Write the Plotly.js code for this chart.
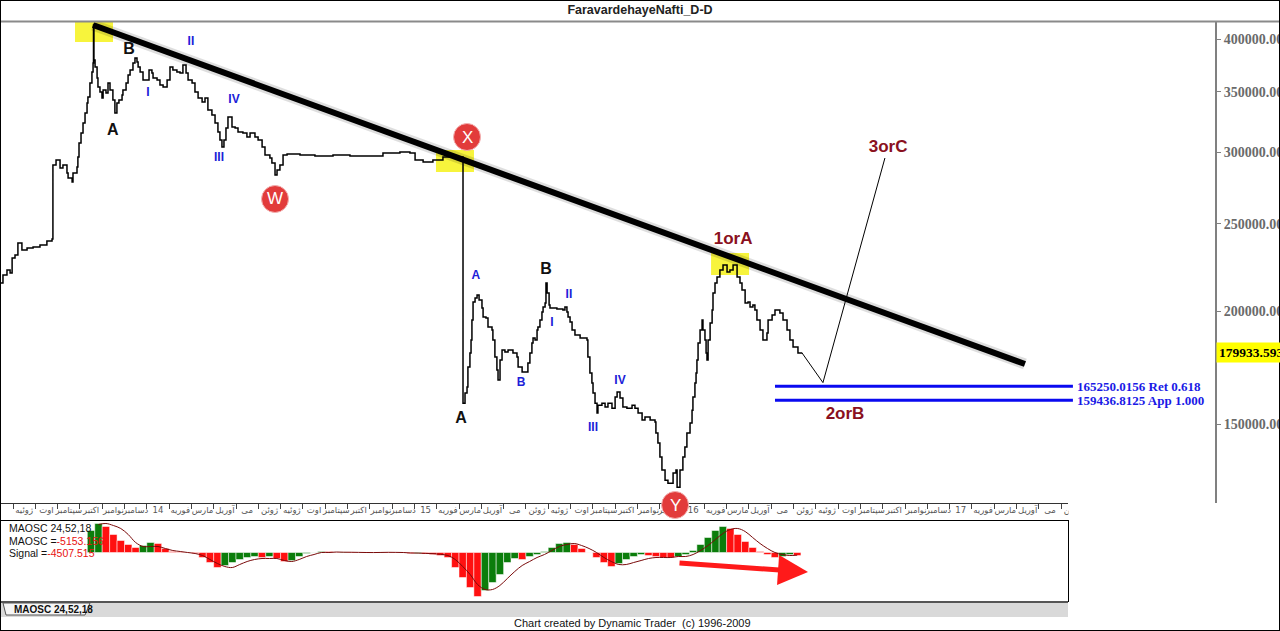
<!DOCTYPE html>
<html>
<head>
<meta charset="utf-8">
<script src="https://cdn.plot.ly/plotly-3.0.1.min.js"></script>
<style>
html,body{margin:0;padding:0;background:#fff;}
#chart{width:1280px;height:631px;}
</style>
</head>
<body>
<div id="chart"></div>
<script>
// ================= DATA =================
const chartTitle = 'FaravardehayeNafti_D-D';

// month tick labels, Jul 2013 .. Jun 2017 (x = month index, 0 = Jul 2013)
const monthLabels = [
  'ژوئیه','اوت','سپتامبر','اکتبر','نوامبر','دسامبر','14','فوریه','مارس','آوریل','می','ژوئن',
  'ژوئیه','اوت','سپتامبر','اکتبر','نوامبر','دسامبر','15','فوریه','مارس','آوریل','می','ژوئن',
  'ژوئیه','اوت','سپتامبر','اکتبر','نوامبر','دسامبر','16','فوریه','مارس','آوریل','می','ژوئن',
  'ژوئیه','اوت','سپتامبر','اکتبر','نوامبر','دسامبر','17','فوریه','مارس','آوریل','می','ژوئن'
];

// price path (month index, price)
const priceMonth = [
  -0.58,-0.45,-0.27,-0.13,-0.04,0.09,0.22,0.40,0.63,0.90,
  1.21,1.52,1.75,1.79,1.93,2.11,2.24,2.42,2.47,2.65,
  2.69,2.87,2.91,2.96,3.05,3.14,3.23,3.32,3.36,3.45,
  3.54,3.59,3.61,3.63,3.68,3.77,3.81,3.90,3.99,4.04,
  4.17,4.26,4.35,4.48,4.57,4.66,4.75,4.89,4.93,5.07,
  5.16,5.25,5.38,5.47,5.56,5.61,5.70,5.83,6.01,6.10,
  6.23,6.28,6.46,6.59,6.73,6.91,7.04,7.17,7.35,7.49,
  7.62,7.76,7.85,8.03,8.16,8.30,8.48,8.61,8.74,8.92,
  9.06,9.19,9.28,9.37,9.46,9.55,9.64,9.82,9.96,10.09,
  10.31,10.49,10.63,10.85,10.99,11.17,11.30,11.52,11.61,11.75,
  11.84,11.97,12.11,12.29,12.87,13.54,14.35,15.11,15.87,16.59,
  17.35,17.80,18.03,18.39,18.83,19.28,19.73,20.13,20.18,20.27,
  20.36,20.40,20.49,20.54,20.58,20.63,20.72,20.81,20.90,21.03,
  21.08,21.21,21.30,21.48,21.52,21.61,21.70,21.75,21.84,21.93,
  22.06,22.20,22.42,22.60,22.65,22.83,23.05,23.09,23.18,23.27,
  23.32,23.41,23.50,23.54,23.63,23.72,23.77,23.86,23.90,23.95,
  24.04,24.08,24.39,24.66,24.75,24.84,24.89,24.98,25.07,25.20,
  25.43,25.65,25.74,25.78,25.87,25.96,26.01,26.10,26.19,26.23,
  26.41,26.55,26.68,26.86,27.00,27.09,27.22,27.35,27.53,27.76,
  27.89,28.03,28.21,28.34,28.57,28.79,28.83,28.92,29.01,29.10,
  29.24,29.37,29.55,29.60,29.73,29.78,29.91,30.04,30.13,30.22,
  30.36,30.45,30.49,30.58,30.63,30.67,30.72,30.81,30.90,30.94,
  31.03,31.08,31.12,31.17,31.26,31.35,31.39,31.48,31.57,31.70,
  31.84,32.02,32.15,32.29,32.47,32.60,32.69,32.83,32.96,33.05,
  33.18,33.27,33.36,33.50,33.63,33.81,33.86,34.04,34.17,34.39,
  34.53,34.71,34.84,34.98,35.20,35.38
];
const priceValue = [
  215000,219400,222200,220500,229100,230900,238000,233800,235000,235600,
  236800,239300,240500,290400,294100,288200,290400,284500,280900,278100,
  284500,288900,296400,307100,315100,323200,331500,340100,345300,357900,
  368000,376600,414800,379500,372700,362400,354200,349700,344400,351500,
  348900,357900,351500,342700,331500,340100,342700,347100,351500,357900,
  365200,369900,376600,381400,377500,372700,368000,360600,360600,369900,
  367100,362400,360600,356000,354200,360600,372700,369900,368000,367100,
  374600,367100,360600,357900,349700,344400,340900,344400,334100,329800,
  323200,315900,309500,304000,309500,319100,328200,319900,319100,315900,
  315100,311900,315100,311900,309500,304000,297900,295600,291900,283100,
  286700,290400,297900,298600,297900,297100,297900,297100,297100,299400,
  300200,299400,294100,292600,294100,296400,296400,296400,158300,162400,
  164900,173600,179900,185900,195600,204800,206900,208500,205900,201700,
  197100,196600,192200,190700,185900,178000,172200,167900,176700,181200,
  180300,181200,179900,178000,173600,171400,171400,175300,179900,184500,
  186900,185900,190700,192200,195600,199700,202200,204300,215000,209600,
  203300,201700,201200,200700,202200,199700,197100,194600,190700,188300,
  186900,186900,185900,178000,170900,166600,162400,158300,154400,157500,
  158300,156700,158300,156300,160800,162900,160400,156700,156300,157500,
  156300,154400,151600,152800,151600,150900,146700,143000,138000,133500,
  130100,129100,129100,132500,133500,127800,133500,138000,141600,146700,
  150500,155500,160800,166600,170900,176700,184500,190700,195600,190700,
  185900,179900,176700,185900,194200,200700,209600,215000,218300,222200,
  225100,221100,222200,225100,218300,215000,211200,204300,204800,202200,
  203300,200700,195600,190700,185900,189300,195600,198200,200700,199200,
  195600,190700,185900,182600,179900,179934
];
const lastPrice = 179933.593;

// trend line (peak -> lower high), projection path, fibonacci levels
const trendMonth = [3.59, 45.38];
const trendPrice = [414800, 174900];
const projMonth = [35.38, 36.32, 39.10];
const projPrice = [179934, 166800, 295600];
const fibLevels = [165250.0156, 159436.8125];
const fibLabels = ['165250.0156 Ret 0.618', '159436.8125 App 1.000'];
const fibMonth = [34.17, 47.53];

// wave labels
const blackLabels = ['A','B','A','B'];
const blackMonth  = [4.48, 5.20, 20.09, 23.90];
const blackPrice  = [316700, 389200, 152000, 222200];
const blueLabels = ['I','II','III','IV','A','B','I','II','III','IV'];
const blueMonth  = [6.05, 7.98, 9.24, 9.91, 20.76, 22.78, 24.17, 24.93, 26.01, 27.22];
const bluePrice  = [348900, 397300, 295600, 342700, 218900, 166600, 194200, 208500, 148600, 167500];
const redLabels = ['1orA','2orB','3orC'];
const redMonth  = [32.29, 37.31, 39.24];
const redPrice  = [239900, 153600, 303200];
const circleLabels = ['W','X','Y'];
const circleMonth  = [11.75, 20.36, 29.69];
const highlightMonth = [3.61, 19.73, 32.29];
const highlightPrice = [414800, 296400, 225100];

// MAOSC 24,52,18 oscillator, one value every 1/3 month from month 3.5
const oscStart = 3.5, oscStep = 1/3;
const maosc = [
  37400,49300,44200,30600,20400,13600,8500,11900,17000,15300,
  6800,1700,850,300,-1700,-8500,-17000,-25500,-22100,-17000,
  -11900,-8500,-6800,-8500,-6800,-10200,-15300,-13600,-6800,-1700,
  -300,1700,1500,400,900,800,200,-700,-200,800,
  700,100,-800,-1600,-1500,-2500,-3400,-5100,-8500,-25500,
  -42500,-59500,-74800,-64600,-51000,-37400,-17000,-10200,-11900,-6800,
  -3400,1700,8500,15300,17000,13600,6800,200,-8500,-17000,
  -23800,-18700,-11900,-6800,-3400,-5100,-6800,-8500,-8800,-6800,
  -3400,3400,13600,25500,37400,44200,40800,30600,18700,8500,
  1700,-3400,-8500,-6800,-3400,-5153.156
];
const signal = [
  null,47600,49300,45900,40800,30600,17000,10200,10200,10200,
  6800,3400,1700,0,-1700,-5100,-11900,-18700,-23800,-25500,
  -20400,-15300,-11900,-10200,-10200,-10200,-13600,-15300,-11900,-6800,
  -3400,0,0,800,500,400,200,0,-100,100,
  300,200,0,-800,-1000,-1500,-2000,-3000,-5100,-11900,
  -23800,-37400,-54400,-62900,-62900,-56100,-44200,-32300,-22100,-15300,
  -8500,-3400,3400,10200,13600,15300,11900,6800,0,-8500,
  -15300,-20400,-20400,-17000,-13600,-10200,-8500,-8500,-8500,-6800,
  -6800,-3400,3400,11900,22100,32300,39100,40800,35700,25500,
  15300,6800,0,-3400,-5100,-4507.515
];

// ================= LAYOUT HELPERS =================
const W = 1280, H = 631;
const fx = px => px / W;
const fy = py => 1 - py / H;
const X_PX0 = 13, PX_PER_MONTH = 22.3;
const pxToMonth = px => (px - X_PX0) / PX_PER_MONTH;
const PRICE_MIN = 122740, PRICE_MAX = 418020, PRICE_TOP_PX = 22, PRICE_BOT_PX = 503;
const PX_PER_LN = (PRICE_BOT_PX - PRICE_TOP_PX) / Math.log(PRICE_MAX / PRICE_MIN);

const GREEN = '#0b7d0b', RED = '#ff1010';
const barColors = maosc.map((v, i) => (i === 0 || v >= maosc[i - 1]) ? GREEN : RED);
const oscX = maosc.map((_, i) => oscStart + i * oscStep);

const tickMonths = monthLabels.map((_, i) => i);
const labelMonths = monthLabels.map((_, i) => i + 0.5);

const traces = [
  { x: trendMonth, y: trendPrice, xaxis: 'x', yaxis: 'y', mode: 'lines',
    line: { color: 'rgba(0,0,0,0.13)', width: 11 }, hoverinfo: 'skip' },
  { x: priceMonth, y: priceValue, xaxis: 'x', yaxis: 'y', mode: 'lines',
    line: { color: '#000', width: 1.5, shape: 'hv' }, hoverinfo: 'skip' },
  { x: trendMonth, y: trendPrice, xaxis: 'x', yaxis: 'y', mode: 'lines',
    line: { color: '#000', width: 6 }, hoverinfo: 'skip' },
  { x: projMonth, y: projPrice, xaxis: 'x', yaxis: 'y', mode: 'lines',
    line: { color: '#000', width: 1 }, hoverinfo: 'skip' },
  { x: fibMonth, y: [fibLevels[0], fibLevels[0]], xaxis: 'x', yaxis: 'y', mode: 'lines',
    line: { color: '#0a0af0', width: 3 }, hoverinfo: 'skip' },
  { x: fibMonth, y: [fibLevels[1], fibLevels[1]], xaxis: 'x', yaxis: 'y', mode: 'lines',
    line: { color: '#0a0af0', width: 3 }, hoverinfo: 'skip' },
  { x: blackMonth, y: blackPrice, text: blackLabels, mode: 'text', xaxis: 'x', yaxis: 'y',
    textposition: 'middle center', cliponaxis: false,
    textfont: { family: 'Liberation Sans, Arial', size: 16, color: '#111', weight: 'bold' }, hoverinfo: 'skip' },
  { x: blueMonth, y: bluePrice, text: blueLabels, mode: 'text', xaxis: 'x', yaxis: 'y',
    textposition: 'middle center', cliponaxis: false,
    textfont: { family: 'Liberation Sans, Arial', size: 12, color: '#2020d8', weight: 'bold' }, hoverinfo: 'skip' },
  { x: redMonth, y: redPrice, text: redLabels, mode: 'text', xaxis: 'x', yaxis: 'y',
    textposition: 'middle center', cliponaxis: false,
    textfont: { family: 'Liberation Sans, Arial', size: 17, color: '#8a1020', weight: 'bold' }, hoverinfo: 'skip' },
  { x: [], y: [], xaxis: 'x3', yaxis: 'y', mode: 'lines', hoverinfo: 'skip' },
  { x: oscX, y: maosc, type: 'bar', xaxis: 'x2', yaxis: 'y2',
    marker: { color: barColors, line: { color: '#ffffff', width: 0.5 } }, hoverinfo: 'skip' },
  { x: oscX, y: signal, xaxis: 'x2', yaxis: 'y2', mode: 'lines',
    line: { color: '#7a0a0a', width: 1, shape: 'spline' }, hoverinfo: 'skip' }
];

const priceXRange = [pxToMonth(0), pxToMonth(1215)];
const oscXRange = [pxToMonth(0), pxToMonth(1068)];

const shapes = [];
// yellow highlights around pivots: [left px, right px, px below, px above]
const hlOffsets = [[-18.5, 19.5, 17, 5], [-17, 21, 15, 7], [-22, 16, 10, 12]];
highlightMonth.forEach((m, i) => {
  const o = hlOffsets[i];
  const p = highlightPrice[i];
  shapes.push({ type: 'rect', xref: 'x', yref: 'y', xsizemode: 'pixel',
    xanchor: m, x0: o[0], x1: o[1],
    y0: p * Math.exp(-o[2] / PX_PER_LN), y1: p * Math.exp(o[3] / PX_PER_LN),
    fillcolor: '#f7f43c', line: { width: 0 }, layer: 'below' });
});
// frame and separators
shapes.push({ type: 'line', xref: 'paper', yref: 'paper', x0: 0, x1: 1, y0: fy(21.5), y1: fy(21.5),
  line: { color: '#8a8a8a', width: 2 } });
shapes.push({ type: 'line', xref: 'paper', yref: 'paper', x0: 0, x1: fx(1068), y0: fy(503.5), y1: fy(503.5),
  line: { color: '#333', width: 1 } });
shapes.push({ type: 'rect', xref: 'paper', yref: 'paper', x0: fx(1068.5), x1: fx(1213.5), y0: fy(519), y1: fy(504.5),
  fillcolor: '#fff', line: { width: 0 }, layer: 'above' });
shapes.push({ type: 'rect', xref: 'paper', yref: 'paper', x0: 0, x1: fx(1068), y0: fy(617), y1: fy(602),
  fillcolor: '#d9d9d9', line: { width: 0 } });
shapes.push({ type: 'line', xref: 'paper', yref: 'paper', x0: 0, x1: fx(1068), y0: fy(602), y1: fy(602),
  line: { color: '#555', width: 2 } });
shapes.push({ type: 'path', xref: 'paper', yref: 'paper',
  path: `M ${fx(3)} ${fy(603)} L ${fx(6)} ${fy(615)} L ${fx(85)} ${fy(615)} L ${fx(90)} ${fy(603)} Z`,
  fillcolor: '#f6f6f6', line: { color: '#555', width: 1 } });
shapes.push({ type: 'rect', xref: 'paper', yref: 'paper', x0: 0, x1: 1, y0: 0, y1: 1,
  line: { color: '#000', width: 2 }, layer: 'above' });
// red pivot circles
const circleRows = [199, 137, 505];
circleMonth.forEach((m, i) => {
  shapes.push({ type: 'circle', xref: 'x', yref: 'paper', xsizemode: 'pixel', ysizemode: 'pixel',
    xanchor: m, yanchor: fy(circleRows[i]), x0: -13.5, x1: 13.5, y0: -13.5, y1: 13.5,
    fillcolor: '#e23b3b', line: { color: '#f3b0b0', width: 1 }, layer: 'above' });
});

const annotations = [];
circleMonth.forEach((m, i) => {
  annotations.push({ xref: 'x', yref: 'paper', x: m, y: fy(circleRows[i]), text: circleLabels[i],
    xanchor: 'center', yanchor: 'middle', showarrow: false,
    font: { family: 'Liberation Sans, Arial', size: 17, color: '#fff' } });
});
fibLevels.forEach((v, i) => {
  annotations.push({ xref: 'x', yref: 'y', x: fibMonth[1], y: Math.log10(v), xanchor: 'left', yanchor: 'middle',
    xshift: 2, text: fibLabels[i], showarrow: false,
    font: { family: 'Liberation Serif, Times New Roman', size: 13, color: '#1a1ae6', weight: 'bold' } });
});
annotations.push({ xref: 'paper', yref: 'y', x: fx(1216), y: Math.log10(lastPrice), xanchor: 'left', yanchor: 'middle',
  text: lastPrice.toFixed(3), showarrow: false, bgcolor: '#ffff00', borderpad: 2,
  font: { family: 'Liberation Serif, Times New Roman', size: 13.5, color: '#000', weight: 'bold' } });
const oscFont = { family: 'Liberation Sans, Arial', size: 10.5, color: '#111' };
const leftText = (py, text, font) => ({ xref: 'paper', yref: 'paper', x: fx(7), y: fy(py),
  xanchor: 'left', yanchor: 'middle', showarrow: false, text: text, font: font });
annotations.push(leftText(528, 'MAOSC 24,52,18', oscFont));
annotations.push(leftText(540.5, 'MAOSC =<span style="color:#e81010">' + maosc[maosc.length - 1].toFixed(3) + '</span>', oscFont));
annotations.push(leftText(553, 'Signal =<span style="color:#e81010">' + signal[signal.length - 1].toFixed(3) + '</span>', oscFont));
annotations.push({ xref: 'paper', yref: 'paper', x: fx(12), y: fy(609), xanchor: 'left', yanchor: 'middle', showarrow: false,
  text: 'MAOSC 24,52,18', font: { family: 'Liberation Sans, Arial', size: 10, color: '#111', weight: 'bold' } });
annotations.push({ xref: 'paper', yref: 'paper', x: fx(632), y: fy(623), xanchor: 'center', yanchor: 'middle', showarrow: false,
  text: 'Chart created by Dynamic Trader&nbsp; (c) 1996-2009', font: { family: 'Liberation Sans, Arial', size: 11, color: '#111' } });
// red momentum arrow in oscillator panel
annotations.push({ xref: 'x2', yref: 'y2', axref: 'x2', ayref: 'y2',
  x: pxToMonth(808), y: -33150, ax: pxToMonth(678), ay: -17850, text: '',
  showarrow: true, arrowhead: 2, arrowsize: 1.2, arrowwidth: 5, arrowcolor: '#ff1a1a', standoff: 0 });

const layout = {
  width: W, height: H,
  margin: { l: 0, r: 0, t: 0, b: 0, pad: 0 },
  paper_bgcolor: '#fff', plot_bgcolor: '#fff',
  showlegend: false,
  font: { family: 'Liberation Sans, Arial', size: 12, color: '#000' },
  title: { text: chartTitle, x: 0.5, xref: 'paper', xanchor: 'center', y: fy(10), yref: 'paper', yanchor: 'middle',
    font: { family: 'Liberation Sans, Arial', size: 12.5, color: '#222', weight: 'bold' } },
  bargap: 0,
  xaxis: { domain: [0, fx(1215)], range: priceXRange, anchor: 'y', tickmode: 'array', tickvals: tickMonths,
    ticks: 'outside', ticklen: 5, tickwidth: 1, tickcolor: '#444', showticklabels: false,
    showgrid: false, zeroline: false, showline: false, fixedrange: true },
  xaxis3: { overlaying: 'x', anchor: 'y', range: priceXRange, tickmode: 'array', tickvals: labelMonths,
    ticktext: monthLabels, ticks: '', ticklen: 0, tickangle: 0, side: 'bottom',
    tickfont: { family: 'DejaVu Sans, Tahoma', size: 8.5, color: '#555' },
    showgrid: false, zeroline: false, showline: false, fixedrange: true },
  yaxis: { domain: [fy(PRICE_BOT_PX), fy(PRICE_TOP_PX)], type: 'log', range: [Math.log10(PRICE_MIN), Math.log10(PRICE_MAX)],
    side: 'right', anchor: 'x', automargin: false,
    tickmode: 'array', tickvals: [150000, 200000, 250000, 300000, 350000, 400000], tickformat: '.3f',
    ticks: 'outside', ticklen: 4, tickcolor: '#808080', showline: true, linecolor: '#808080', linewidth: 2,
    tickfont: { family: 'Liberation Serif, Times New Roman', size: 14, color: '#6a6a6a', weight: 'bold' },
    showgrid: false, zeroline: false, fixedrange: true },
  xaxis2: { domain: [0, fx(1068)], range: oscXRange, anchor: 'y2', showticklabels: false, ticks: '',
    showline: true, mirror: true, linecolor: '#000', linewidth: 1, showgrid: false, zeroline: false, fixedrange: true },
  yaxis2: { domain: [fy(601), fy(521)], range: [-82450, 53550], anchor: 'x2', showticklabels: false, ticks: '',
    showline: true, mirror: true, linecolor: '#000', linewidth: 1, showgrid: false, zeroline: false, fixedrange: true },
  shapes: shapes,
  annotations: annotations
};

Plotly.newPlot('chart', traces, layout, { staticPlot: true, displayModeBar: false });
</script>
</body>
</html>
